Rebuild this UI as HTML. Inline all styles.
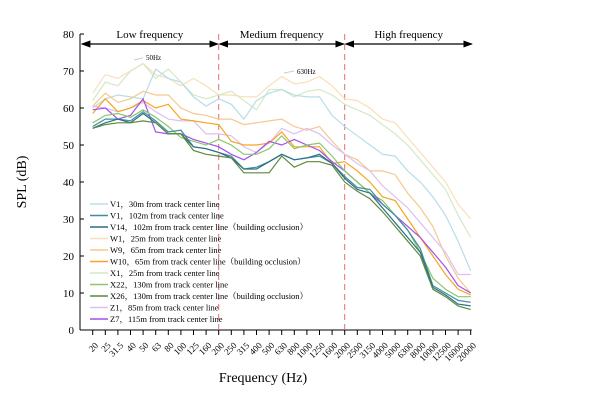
<!DOCTYPE html>
<html><head><meta charset="utf-8"><style>
body{margin:0;background:#fff;}
svg{display:block;font-family:"Liberation Serif",serif;}
</style></head><body>
<svg id="chart" width="612" height="416" xmlns="http://www.w3.org/2000/svg"></svg>
<script>
const categories=["20","25","31.5","40","50","63","80","100","125","160","200","250","315","400","500","630","800","1000","1250","1600","2000","2500","3150","4000","5000","6300","8000","10000","12500","16000","20000"];
const yTicks=[0,10,20,30,40,50,60,70,80];
const seriesNames=["V1，30m from track center line","V1，102m from track center line","V14，102m from track center line（building occlusion）","W1，25m from track center line","W9，65m from track center line","W10，65m from track center line（building occlusion）","X1，25m from track center line","X22，130m from track center line","X26，130m from track center line（building occlusion）","Z1，85m from track center line","Z7，115m from track center line"];
const seriesColors=["#b8dde8","#3d8ea0","#2f6f82","#f9dfb8","#f5c88f","#f5a623","#d4e9c6","#8cc76b","#5b8a3e","#dcc0f3","#a64ef0"];
const sV1_30=[60,62.5,63.5,63,62.5,70.5,68,67,63,60.5,62.5,61,57,62,64,65,63.5,63,63,58,55,52.5,50,47.5,47,43,40,36,31,24,16];
const sV1_102=[55,57,57,56.5,59,56.5,53.5,54,49.5,49,48,47,43.5,44,45.5,47.5,46,46.5,47,45,41.5,38.5,38,34,31,27,22,12,10,8,7.5];
const sV14=[54.5,56,57,56,58.5,56,53,53,49.5,49,48,46.5,43.5,43.5,45.5,47.5,46,46.5,47.5,45,41,38,37,33,29,25,21,11.5,9.5,7,6.5];
const sW1=[64,69,68,70,72,69,68,66,68,66,63.5,63.5,63,63,66,68.5,66.5,67,68.5,66,62.5,62,60,57,56,52,48,44,40,34,30];
const sW9=[60.5,64,61.5,62.5,64.5,63.5,63.5,60,58.5,58,57,57,55.5,56,56.5,57,55,54,55,51,47.5,46,43,43,42,37,33,28,20,14,10];
const sW10=[58.5,62.5,59,60,62,60,61,57,56.5,56,55.5,51,50,50,50.5,53.5,49.5,49.5,49.5,45,45.5,43,40,36,35,30,25,20,15,11,9.5];
const sX1=[62,67,66,70,72,68,70.5,67,63.5,62.5,63.5,64.5,62,59.5,65,65,63,64.5,65,63.5,61,59.5,58,55.5,53,50,46,42,38,31,25];
const sX22=[56,58,58.5,57.5,59.5,57.5,55,52,51,50,51.5,50,47.5,47.5,49,52.5,49,50,50.5,47,43,40,37,35,31,27,21,14,11,9,9];
const sX26=[54.5,55.5,56,56,56.5,56,53,53,48.5,47.5,47,46.5,42.5,42.5,42.5,47,44,45.5,45.5,44.5,40,37.5,35.5,32,28,24,20,11,9,6.5,5.5];
const sZ1=[60.5,60,59,60,61.5,59,57,56.5,56.5,53,53,52.5,49.5,48,50.5,54.5,53,54.5,53,50,47.5,45,43,39,36,33,29,25,21,15,15];
const sZ7=[59.5,60,57,58,62.5,53.5,53,53,51.5,50.5,49.5,47.5,46,48,51,50,51.5,50,48.5,45.5,43,40,37,34,31,28,25,21,17,12,10];
const allSeries=[sV1_30,sV1_102,sV14,sW1,sW9,sW10,sX1,sX22,sX26,sZ1,sZ7];
const drawOrder=[3,6,0,4,9,5,10,7,1,2,8];

const NS="http://www.w3.org/2000/svg";
const svg=document.getElementById('chart');
function mk(t,a,p){const e=document.createElementNS(NS,t);for(const k in a)e.setAttribute(k,a[k]);(p||svg).appendChild(e);return e;}
const X0=92.7,DX=12.6,Y0=330,DY=3.7,AX=80;
const xs=i=>X0+i*DX, ys=v=>Y0-v*DY;

let e=mk('line',{x1:AX,y1:ys(80),x2:AX,y2:Y0,stroke:'#000','stroke-width':1});

e=mk('line',{x1:AX,y1:Y0,x2:xs(categories.length-1)+1,y2:Y0,stroke:'#000','stroke-width':1});

yTicks.forEach(v=>{
  mk('line',{x1:AX,y1:ys(v),x2:AX+4,y2:ys(v),stroke:'#000'});
  const t=mk('text',{x:AX-6,y:ys(v)+4,'text-anchor':'end','font-size':11});
  t.textContent=v;
  
  
});
categories.forEach((c,i)=>{
  mk('line',{x1:xs(i),y1:Y0,x2:xs(i),y2:Y0+5,stroke:'#000'});
  const x=xs(i)+6,y=Y0+16;
  const t=mk('text',{x:x,y:y,'text-anchor':'end','font-size':9,transform:`rotate(-45 ${x} ${y})`});
  t.textContent=c;
  
  
});
e=mk('text',{x:263,y:382,'text-anchor':'middle','font-size':14});e.textContent='Frequency (Hz)';

e=mk('text',{x:26,y:182,'text-anchor':'middle','font-size':14,transform:'rotate(-90 26 182)'});e.textContent='SPL (dB)';


[10,20].forEach(i=>{
  const l=mk('line',{x1:xs(i),y1:ys(80),x2:xs(i),y2:Y0,stroke:'#e07070','stroke-dasharray':'6,4','stroke-width':1});
  
  
});
const defs=mk('defs',{});
const m=mk('marker',{id:'ah',markerWidth:8,markerHeight:6,refX:7,refY:3,orient:'auto-start-reverse'},defs);
mk('path',{d:'M0,0 L8,3 L0,6 Z',fill:'#000'},m);
const bands=[["Low frequency",AX+2,xs(10)-1],["Medium frequency",xs(10)+1,xs(20)-1],["High frequency",xs(20)+1,xs(30)+1]];
bands.forEach(b=>{
  const l=mk('line',{x1:b[1],y1:44,x2:b[2],y2:44,stroke:'#000','stroke-width':1.2,'marker-start':'url(#ah)','marker-end':'url(#ah)'});
  
  
  const t=mk('text',{x:(b[1]+b[2])/2,y:38,'text-anchor':'middle','font-size':11});
  t.textContent=b[0];
  
  
});

drawOrder.forEach(k=>{
  const d=allSeries[k].map((v,i)=>(i?'L':'M')+xs(i).toFixed(1)+','+ys(v).toFixed(1)).join(' ');
  const p=mk('path',{d:d,fill:'none',stroke:seriesColors[k],'stroke-width':1.2});
  
  
});

mk('line',{x1:134,y1:60,x2:143,y2:58,stroke:'#ccc'});
e=mk('text',{x:146,y:60,'font-size':7});e.textContent='50Hz';

mk('line',{x1:284,y1:73,x2:294,y2:71,stroke:'#ccc'});
e=mk('text',{x:297,y:74,'font-size':7});e.textContent='630Hz';


seriesNames.forEach((n,k)=>{
  const y=204+k*11.5;
  const g=mk('g',{});
  
  
  mk('line',{x1:90,y1:y,x2:108,y2:y,stroke:seriesColors[k],'stroke-width':1.5},g);
  const t=mk('text',{x:110,y:y+3,'font-size':8.5,'font-family':'"Liberation Serif","Noto Serif CJK SC",serif'},g);
  t.textContent=n;
});
</script>
</body></html>
